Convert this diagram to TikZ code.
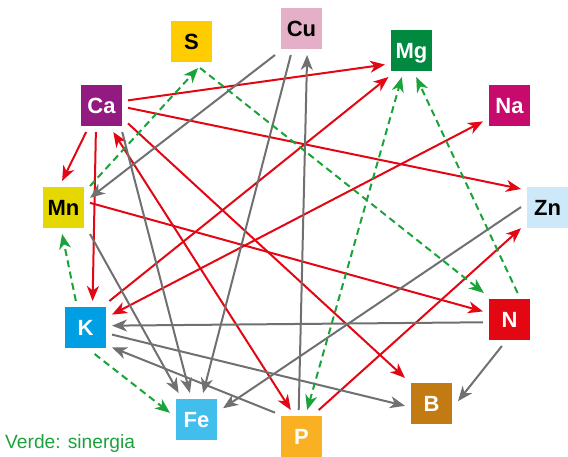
\documentclass[tikz,border=0pt]{standalone}
\usepackage{fontspec}
\setmainfont{Liberation Sans}
\usetikzlibrary{arrows.meta}

\definecolor{cS}{HTML}{FFCC00}
\definecolor{cCu}{HTML}{E4B0C7}
\definecolor{cMg}{HTML}{00893F}
\definecolor{cNa}{HTML}{C60B6C}
\definecolor{cZn}{HTML}{CDE8F8}
\definecolor{cN}{HTML}{E30613}
\definecolor{cB}{HTML}{C27A12}
\definecolor{cP}{HTML}{F9B123}
\definecolor{cFe}{HTML}{42BEEC}
\definecolor{cK}{HTML}{009FE3}
\definecolor{cMn}{HTML}{E5D700}
\definecolor{cCa}{HTML}{931A80}
\definecolor{redline}{HTML}{E30613}
\definecolor{grayline}{HTML}{707070}
\definecolor{greenline}{HTML}{1BA33B}

\begin{document}
\begin{tikzpicture}[x=1pt, y=-1pt,
    elem/.style={rectangle, minimum size=41pt, inner sep=0pt, outer sep=6pt,
        font=\fontsize{22}{22}\selectfont\bfseries, text height=15.8pt, text depth=0pt, text=white},
    darktext/.style={text=black},
    >={Stealth[length=15pt, width=12pt, inset=4.5pt]},
    redarrow/.style={draw=redline, line width=2pt, ->},
    grayarrow/.style={draw=grayline, line width=2pt, ->},
    greenarrow/.style={draw=greenline, line width=2pt, dash pattern=on 7pt off 4.5pt, ->}]

    \useasboundingbox (0,0) rectangle (568,456);

    % Define elements with coordinates
    \node[elem, fill=cS, darktext] (S) at (191.5,41.5) {S};
    \node[elem, fill=cCu, darktext] (Cu) at (301.5,28.5) {Cu};
    \node[elem, fill=cMg] (Mg) at (411.5,50.5) {Mg};
    \node[elem, fill=cNa] (Na) at (509.5,105.5) {Na};
    \node[elem, fill=cCa] (Ca) at (101.5,105.5) {Ca};
    \node[elem, fill=cMn, darktext] (Mn) at (63.5,207.5) {Mn};
    \node[elem, fill=cZn, darktext] (Zn) at (547.5,207.5) {Zn};
    \node[elem, fill=cK] (K) at (85.5,327.5) {K};
    \node[elem, fill=cN] (N) at (509.5,319.5) {N};
    \node[elem, fill=cFe] (Fe) at (196.5,419.5) {Fe};
    \node[elem, fill=cP] (P) at (301.5,436.5) {P};
    \node[elem, fill=cB] (B) at (431.5,403.5) {B};

    % Red arrows
    \draw[redarrow] (Ca.11) -- (Mg.-152);
    \draw[redarrow] (Ca.-5) -- (Zn.145);
    \draw[redarrow] (Ca.-120) -- (Mn.93);
    \draw[redarrow] (Ca.-102) -- (K.75);
    \draw[redarrow] (Ca.-34) -- (B.136);
    \draw[redarrow, <->] (Ca.-66) -- (P.112);
    \draw[redarrow] (K.48) -- (Mg.-131);
    \draw[redarrow, <->] (K.26) -- (Na.-149);
    \draw[redarrow] (Mn.10) -- (N.163);
    \draw[redarrow] (P.57) -- (Zn.-142);
    % Gray arrows
    \draw[grayarrow] (Cu.-135) -- (Mn.20);
    \draw[grayarrow] (Cu.-112) -- (Fe.76);
    \draw[grayarrow] (P.96) -- (Cu.-78);
    \draw[grayarrow] (Ca.-52) -- (Fe.104);
    \draw[grayarrow] (Mn.-45) -- (Fe.124);
    \draw[grayarrow] (N.-174) -- (K.4);
    \draw[grayarrow] (K.-15) -- (B.185);
    \draw[grayarrow] (P.138) -- (K.-37);
    \draw[grayarrow] (Zn.179) -- (Fe.23);
    \draw[grayarrow] (N.-106) -- (B.5);
    % Green dashed arrows
    \draw[greenarrow] (Mn.39) -- (S.-76);
    \draw[greenarrow] (S.-72) -- (N.134);
    \draw[greenarrow, <->] (P.78) -- (Mg.-110);
    \draw[greenarrow] (N.73) -- (Mg.-80);
    \draw[greenarrow] (K.110) -- (Mn.-93);
    \draw[greenarrow] (K.-71) -- (Fe.166);

    % Legend
    \node[anchor=base west, inner sep=0pt, text=greenline, font=\fontsize{19.2}{19.2}\selectfont] (legend) at (5,448.5) {Verde: sinergia};
\end{tikzpicture}
\end{document}
